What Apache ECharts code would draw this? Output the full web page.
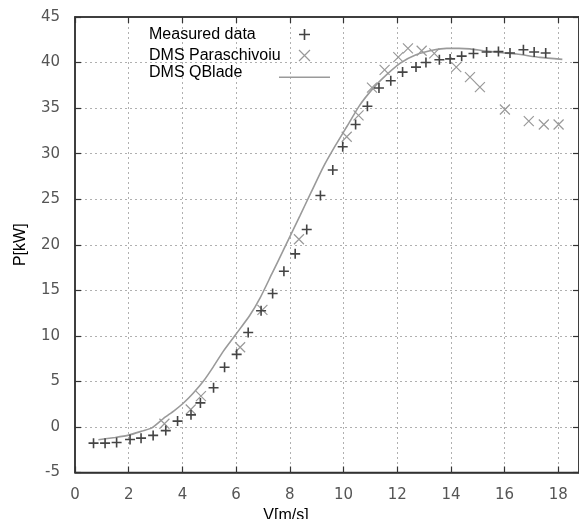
<!DOCTYPE html>
<html>
<head>
<meta charset="utf-8">
<script src="https://cdn.jsdelivr.net/npm/echarts@6/dist/echarts.min.js"></script>
<style>html,body{margin:0;padding:0;background:#fff}#c{width:579px;height:519px}</style>
</head>
<body>
<div id="c"></div>
<script>
// Measured data (V [m/s], P [kW])
var measuredV = [0.69,1.12,1.55,2.05,2.46,2.91,3.38,3.82,4.32,4.67,5.16,5.57,6.02,6.45,6.93,7.36,7.78,8.2,8.63,9.14,9.6,9.97,10.45,10.89,11.32,11.76,12.2,12.7,13.07,13.57,13.97,14.4,14.84,15.33,15.77,16.2,16.7,17.1,17.53];
var measuredP = [-1.78,-1.78,-1.7,-1.37,-1.23,-0.93,-0.4,0.64,1.33,2.64,4.3,6.56,7.97,10.36,12.75,14.65,17.09,19.0,21.67,25.4,28.2,30.75,33.2,35.2,37.2,38.0,38.95,39.5,40.0,40.3,40.4,40.7,41.0,41.15,41.2,41.05,41.4,41.15,41.05];
// DMS Paraschivoiu
var paraV = [3.33,4.31,4.69,6.15,6.98,8.34,10.12,10.56,11.06,11.53,12.04,12.4,12.91,13.38,14.2,14.71,15.08,16.01,16.9,17.46,18.01];
var paraP = [0.35,1.92,3.38,8.75,12.85,20.6,31.85,34.2,37.25,39.2,40.6,41.55,41.3,41.0,39.5,38.4,37.3,34.85,33.57,33.2,33.2];
// DMS QBlade
var qbV = [0.87,1.5,2.0,2.5,2.86,3.3,3.7,4.03,4.4,4.8,5.15,5.52,6.0,6.5,6.9,7.33,7.76,8.38,8.8,9.25,9.7,10.12,10.6,11.05,11.4,12.1,12.7,13.35,13.84,14.3,14.71,15.21,15.8,16.45,17.32,18.15];
var qbP = [-1.4,-1.15,-0.9,-0.45,-0.1,0.95,1.8,2.6,3.7,5.1,6.6,8.3,10.2,12.2,14.2,16.8,19.4,23.2,25.8,28.55,30.9,32.95,35.3,37.0,38.1,39.9,40.85,41.37,41.56,41.56,41.5,41.3,41.1,40.93,40.57,40.35];
// Axis ticks
var xTicks = {min: 0, max: 18.77, interval: 2};
var yTicks = {min: -5, max: 45, interval: 5};

function zip(a, b) { return a.map(function (v, i) { return [v, b[i]]; }); }

var plusPath = 'path://M0,5L10,5M5,0L5,10';
var crossPath = 'path://M0,0L10,10M10,0L0,10';
var lineIconPath = 'path://M0,0L51,0L51,0.01L0,0.01ZM0,8.5L51,8.5L51,10L0,10Z';
var axisColor = '#333';
var labelStyle = {color: '#555', fontFamily: 'DejaVu Sans', fontSize: 15};
var legendFont = {fontFamily: 'Liberation Sans', fontSize: 16, color: '#000'};
var splitStyle = {show: true, showMinLine: false, showMaxLine: false, lineStyle: {color: '#b0b0b0', type: [2, 3], width: 1}};

var chart = echarts.init(document.getElementById('c'), null, {renderer: 'canvas'});
chart.setOption({
  animation: false,
  backgroundColor: '#fff',
  grid: {
    left: 75, right: 0, top: 17, bottom: 46.5, containLabel: false, outerBoundsMode: 'none',
    show: true, borderColor: axisColor, borderWidth: 1.5, backgroundColor: 'rgba(0,0,0,0)'
  },
  legend: [
    {
      orient: 'vertical', left: 149, top: 26.5, padding: 0, align: 'right',
      itemWidth: 11, itemHeight: 11, itemGap: 5,
      formatter: '{a|{name}}',
      textStyle: Object.assign({rich: {a: Object.assign({width: 145, align: 'left'}, legendFont)}}, legendFont),
      data: [
        {name: 'Measured data', icon: plusPath, itemStyle: {color: 'none', borderColor: '#444', borderWidth: 1.6}},
        {name: 'DMS Paraschivoiu', icon: crossPath, itemStyle: {color: 'none', borderColor: '#999', borderWidth: 1.2}}
      ]
    },
    {
      orient: 'vertical', left: 149, top: 65, padding: 0, align: 'right',
      itemWidth: 51, itemHeight: 12,
      formatter: '{a|{name}}',
      textStyle: Object.assign({rich: {a: Object.assign({width: 125, align: 'left'}, legendFont)}}, legendFont),
      data: [{name: 'DMS QBlade', icon: lineIconPath, itemStyle: {color: '#9a9a9a', borderWidth: 0}}]
    }
  ],
  xAxis: [
    {
      type: 'value', position: 'bottom', min: xTicks.min, max: xTicks.max, interval: xTicks.interval,
      name: 'V[m/s]', nameLocation: 'middle', nameGap: 28,
      nameTextStyle: Object.assign({padding: [0, 82, 0, 0]}, legendFont),
      axisLine: {show: true, onZero: false, lineStyle: {color: axisColor, width: 1.5}},
      axisTick: {show: true, inside: true, length: 6, lineStyle: {color: axisColor, width: 1.2}},
      axisLabel: Object.assign({margin: 15, showMaxLabel: false}, labelStyle),
      splitLine: splitStyle
    },
    {
      type: 'value', position: 'top', min: xTicks.min, max: xTicks.max, interval: xTicks.interval,
      axisLine: {show: true, onZero: false, lineStyle: {color: axisColor, width: 1.5}},
      axisTick: {show: true, inside: true, length: 6, lineStyle: {color: axisColor, width: 1.2}},
      axisLabel: {show: false}, splitLine: {show: false}
    }
  ],
  yAxis: [
    {
      type: 'value', position: 'left', min: yTicks.min, max: yTicks.max, interval: yTicks.interval,
      name: 'P[kW]', nameLocation: 'middle', nameGap: 46, nameRotate: 90,
      nameTextStyle: legendFont,
      axisLine: {show: true, onZero: false, lineStyle: {color: axisColor, width: 1.5}},
      axisTick: {show: true, inside: true, length: 6, lineStyle: {color: axisColor, width: 1.2}},
      axisLabel: Object.assign({margin: 15}, labelStyle),
      splitLine: splitStyle
    },
    {
      type: 'value', position: 'right', min: yTicks.min, max: yTicks.max, interval: yTicks.interval,
      axisLine: {show: true, onZero: false, lineStyle: {color: axisColor, width: 1.5}},
      axisTick: {show: true, inside: true, length: 6, lineStyle: {color: axisColor, width: 1.2}},
      axisLabel: {show: false}, splitLine: {show: false}
    }
  ],
  series: [
    {
      name: 'DMS QBlade', type: 'line', data: zip(qbV, qbP),
      symbol: 'none', showSymbol: false, smooth: 0.2,
      lineStyle: {color: '#9a9a9a', width: 1.6}, itemStyle: {color: '#9a9a9a'}, z: 2
    },
    {
      name: 'DMS Paraschivoiu', type: 'scatter', data: zip(paraV, paraP),
      symbol: crossPath, symbolSize: 10,
      itemStyle: {color: 'none', borderColor: '#999', borderWidth: 1.2, opacity: 1}, z: 3
    },
    {
      name: 'Measured data', type: 'scatter', data: zip(measuredV, measuredP),
      symbol: plusPath, symbolSize: 10,
      itemStyle: {color: 'none', borderColor: '#444', borderWidth: 1.6, opacity: 1}, z: 4
    }
  ]
});
</script>
</body>
</html>
